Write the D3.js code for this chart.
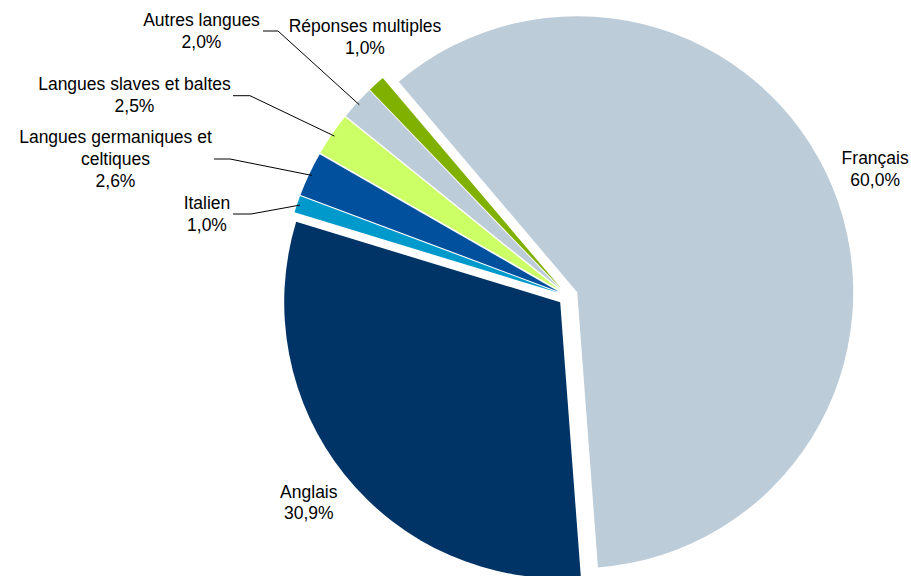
<!DOCTYPE html>
<html>
<head>
<meta charset="utf-8">
<script src="https://cdn.jsdelivr.net/npm/d3@7/dist/d3.min.js"></script>
<style>
  body { margin: 0; background: #fff; }
  text { font-family: "Liberation Sans", Arial, sans-serif; font-size: 17.5px; fill: #000; }
</style>
</head>
<body>
<div id="chart"></div>
<script>
var width = 911, height = 576;

// data
var categories = ["Français", "Anglais", "Italien", "Langues germaniques et celtiques",
                  "Langues slaves et baltes", "Autres langues", "Réponses multiples"];
var values = [60.0, 30.9, 1.0, 2.6, 2.5, 2.0, 1.0];
var colors = ["#bdccd9", "#003366", "#0099cc", "#00509e", "#ccff66", "#bdccd9", "#80b000"];

// label lines (text split like the original) and where they sit
var labelLines = [
  ["Français"], ["Anglais"], ["Italien"], ["Langues germaniques et", "celtiques"],
  ["Langues slaves et baltes"], ["Autres langues"], ["Réponses multiples"]
];
var labelPos = [null, null, [207, 209], [115.5, 143.3], [134.5, 90], [201.5, 26], [365, 32.3]];
// leader start (near text) and elbow
var leaders = [null, null, [[233, 214], [251, 214]], [[214, 159], [230, 159]],
               [[233, 95.7], [250, 95.7]], [[263, 31], [278, 31]], null];

var cx = 568, cy = 296, radius = 276, explode = 10, lineH = 21.6;
var start = -40.3 * Math.PI / 180;

var svg = d3.select('#chart').append('svg')
    .attr('width', width)
    .attr('height', height);

var pie = d3.pie().sort(null).value(function(d) { return d; })
    .startAngle(start).endAngle(start + 2 * Math.PI);
var arcs = pie(values);
var arc = d3.arc().innerRadius(0).outerRadius(radius);

function polar(a, r) { return [Math.sin(a) * r, -Math.cos(a) * r]; }
function mid(d) { return (d.startAngle + d.endAngle) / 2; }

var g = svg.append('g').attr('transform', 'translate(' + cx + ',' + cy + ')');

g.selectAll('path.slice')
  .data(arcs)
  .enter().append('path')
    .attr('class', 'slice')
    .attr('d', arc)
    .attr('fill', function(d, i) { return colors[i]; })
    .attr('transform', function(d) {
      var p = polar(mid(d), explode);
      return 'translate(' + p[0] + ',' + p[1] + ')';
    });

// leader lines
arcs.forEach(function(d, i) {
  if (!leaders[i]) return;
  var e = polar(mid(d), radius + explode - 3);
  var pts = [leaders[i][0], leaders[i][1], [cx + e[0], cy + e[1]]];
  svg.append('path')
    .attr('d', d3.line()(pts))
    .attr('fill', 'none')
    .attr('stroke', '#000')
    .attr('stroke-width', 1);
});

// labels
arcs.forEach(function(d, i) {
  var pos = labelPos[i];
  var lines = labelLines[i].concat([d3.format('.1f')(values[i]).replace('.', ',') + '%']);
  var x, y;
  if (pos) {
    x = pos[0]; y = pos[1];
  } else {
    // big slices: label outside the slice along its bisector
    var p = polar(mid(d), radius + 56);
    x = cx + p[0];
    y = cy + p[1] - lineH / 2 + 5;
  }
  var t = svg.append('text').attr('text-anchor', 'middle');
  lines.forEach(function(s, k) {
    t.append('tspan').attr('x', x).attr('y', y + k * lineH).text(s);
  });
});
</script>
</body>
</html>
